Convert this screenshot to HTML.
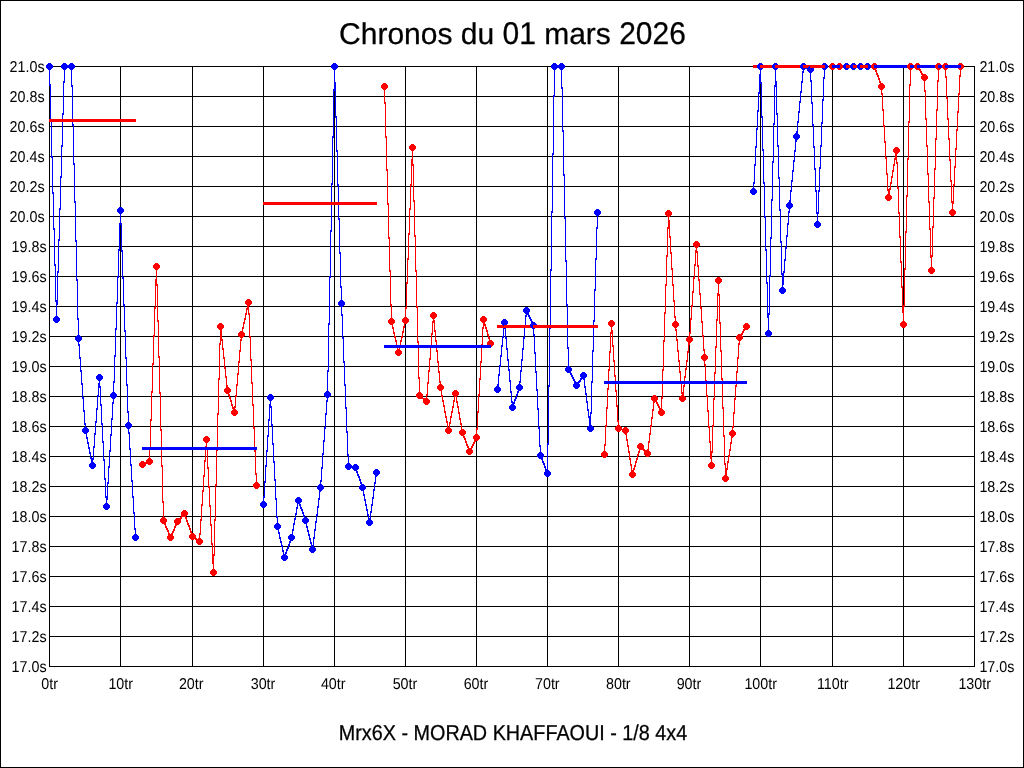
<!DOCTYPE html><html><head><meta charset="utf-8"><title>Chronos du 01 mars 2026</title><style>html,body{margin:0;padding:0;background:#fff;}svg{display:block;}text{font-family:"Liberation Sans",Arial,sans-serif;fill:#000;text-rendering:geometricPrecision;}</style></head><body>
<svg width="1024" height="768" viewBox="0 0 1024 768" shape-rendering="crispEdges">
<rect x="0" y="0" width="1024" height="768" fill="#fff"/>
<rect x="0.5" y="0.5" width="1023" height="767" fill="none" stroke="#000" stroke-width="1"/>
<text transform="translate(339.062 44) scale(1 1.0)" font-size="30" stroke="#000" stroke-width="0.25">Chronos du</text>
<text transform="translate(502.484 44) scale(1 1.045)" font-size="30" stroke="#000" stroke-width="0.25">01</text>
<text transform="translate(544.188 44) scale(1 1.0)" font-size="30" stroke="#000" stroke-width="0.25">mars</text>
<text transform="translate(619.188 44) scale(1 1.045)" font-size="30" stroke="#000" stroke-width="0.25">2026</text>
<text transform="translate(513 740) scale(0.989 1.08)" font-size="20" text-anchor="middle" stroke="#000" stroke-width="0.25">Mrx6X - MORAD KHAFFAOUI - 1/8 4x4</text>
<path d="M49 66.5H975M49 96.5H975M49 126.5H975M49 156.5H975M49 186.5H975M49 216.5H975M49 246.5H975M49 276.5H975M49 306.5H975M49 336.5H975M49 366.5H975M49 396.5H975M49 426.5H975M49 456.5H975M49 486.5H975M49 516.5H975M49 546.5H975M49 576.5H975M49 606.5H975M49 636.5H975M49 666.5H975M49.5 66V667M120.5 66V667M192.5 66V667M263.5 66V667M334.5 66V667M405.5 66V667M476.5 66V667M547.5 66V667M618.5 66V667M689.5 66V667M760.5 66V667M832.5 66V667M903.5 66V667M974.5 66V667" stroke="#000" stroke-width="1" fill="none"/>
<text transform="translate(44.6 72) scale(1.0 1.1)" font-size="14.3" text-anchor="end">21.0s</text>
<text transform="translate(979.4 72) scale(1.0 1.1)" font-size="14.3">21.0s</text>
<text transform="translate(44.6 102) scale(1.0 1.1)" font-size="14.3" text-anchor="end">20.8s</text>
<text transform="translate(979.4 102) scale(1.0 1.1)" font-size="14.3">20.8s</text>
<text transform="translate(44.6 132) scale(1.0 1.1)" font-size="14.3" text-anchor="end">20.6s</text>
<text transform="translate(979.4 132) scale(1.0 1.1)" font-size="14.3">20.6s</text>
<text transform="translate(44.6 162) scale(1.0 1.1)" font-size="14.3" text-anchor="end">20.4s</text>
<text transform="translate(979.4 162) scale(1.0 1.1)" font-size="14.3">20.4s</text>
<text transform="translate(44.6 192) scale(1.0 1.1)" font-size="14.3" text-anchor="end">20.2s</text>
<text transform="translate(979.4 192) scale(1.0 1.1)" font-size="14.3">20.2s</text>
<text transform="translate(44.6 222) scale(1.0 1.1)" font-size="14.3" text-anchor="end">20.0s</text>
<text transform="translate(979.4 222) scale(1.0 1.1)" font-size="14.3">20.0s</text>
<text transform="translate(46.6 252) scale(1.0 1.1)" font-size="14.3" text-anchor="end">19.8s</text>
<text transform="translate(979.4 252) scale(1.0 1.1)" font-size="14.3">19.8s</text>
<text transform="translate(46.6 282) scale(1.0 1.1)" font-size="14.3" text-anchor="end">19.6s</text>
<text transform="translate(979.4 282) scale(1.0 1.1)" font-size="14.3">19.6s</text>
<text transform="translate(46.6 312) scale(1.0 1.1)" font-size="14.3" text-anchor="end">19.4s</text>
<text transform="translate(979.4 312) scale(1.0 1.1)" font-size="14.3">19.4s</text>
<text transform="translate(46.6 342) scale(1.0 1.1)" font-size="14.3" text-anchor="end">19.2s</text>
<text transform="translate(979.4 342) scale(1.0 1.1)" font-size="14.3">19.2s</text>
<text transform="translate(46.6 372) scale(1.0 1.1)" font-size="14.3" text-anchor="end">19.0s</text>
<text transform="translate(979.4 372) scale(1.0 1.1)" font-size="14.3">19.0s</text>
<text transform="translate(46.6 402) scale(1.0 1.1)" font-size="14.3" text-anchor="end">18.8s</text>
<text transform="translate(979.4 402) scale(1.0 1.1)" font-size="14.3">18.8s</text>
<text transform="translate(46.6 432) scale(1.0 1.1)" font-size="14.3" text-anchor="end">18.6s</text>
<text transform="translate(979.4 432) scale(1.0 1.1)" font-size="14.3">18.6s</text>
<text transform="translate(46.6 462) scale(1.0 1.1)" font-size="14.3" text-anchor="end">18.4s</text>
<text transform="translate(979.4 462) scale(1.0 1.1)" font-size="14.3">18.4s</text>
<text transform="translate(46.6 492) scale(1.0 1.1)" font-size="14.3" text-anchor="end">18.2s</text>
<text transform="translate(979.4 492) scale(1.0 1.1)" font-size="14.3">18.2s</text>
<text transform="translate(46.6 522) scale(1.0 1.1)" font-size="14.3" text-anchor="end">18.0s</text>
<text transform="translate(979.4 522) scale(1.0 1.1)" font-size="14.3">18.0s</text>
<text transform="translate(46.6 552) scale(1.0 1.1)" font-size="14.3" text-anchor="end">17.8s</text>
<text transform="translate(979.4 552) scale(1.0 1.1)" font-size="14.3">17.8s</text>
<text transform="translate(46.6 582) scale(1.0 1.1)" font-size="14.3" text-anchor="end">17.6s</text>
<text transform="translate(979.4 582) scale(1.0 1.1)" font-size="14.3">17.6s</text>
<text transform="translate(46.6 612) scale(1.0 1.1)" font-size="14.3" text-anchor="end">17.4s</text>
<text transform="translate(979.4 612) scale(1.0 1.1)" font-size="14.3">17.4s</text>
<text transform="translate(46.6 642) scale(1.0 1.1)" font-size="14.3" text-anchor="end">17.2s</text>
<text transform="translate(979.4 642) scale(1.0 1.1)" font-size="14.3">17.2s</text>
<text transform="translate(46.6 672) scale(1.0 1.1)" font-size="14.3" text-anchor="end">17.0s</text>
<text transform="translate(979.4 672) scale(1.0 1.1)" font-size="14.3">17.0s</text>
<text transform="translate(49.7 689) scale(1.0 1.1)" font-size="14.3" text-anchor="middle">0tr</text>
<text transform="translate(120.7 689) scale(1.0 1.1)" font-size="14.3" text-anchor="middle">10tr</text>
<text transform="translate(191.2 689) scale(1.0 1.1)" font-size="14.3" text-anchor="middle">20tr</text>
<text transform="translate(263.0 689) scale(1.0 1.1)" font-size="14.3" text-anchor="middle">30tr</text>
<text transform="translate(333.2 689) scale(1.0 1.1)" font-size="14.3" text-anchor="middle">40tr</text>
<text transform="translate(404.95 689) scale(1.0 1.1)" font-size="14.3" text-anchor="middle">50tr</text>
<text transform="translate(475.95 689) scale(1.0 1.1)" font-size="14.3" text-anchor="middle">60tr</text>
<text transform="translate(547.3 689) scale(1.0 1.1)" font-size="14.3" text-anchor="middle">70tr</text>
<text transform="translate(618.3 689) scale(1.0 1.1)" font-size="14.3" text-anchor="middle">80tr</text>
<text transform="translate(688.95 689) scale(1.0 1.1)" font-size="14.3" text-anchor="middle">90tr</text>
<text transform="translate(760.7 689) scale(1.0 1.1)" font-size="14.3" text-anchor="middle">100tr</text>
<text transform="translate(832.7 689) scale(1.0 1.1)" font-size="14.3" text-anchor="middle">110tr</text>
<text transform="translate(903.7 689) scale(1.0 1.1)" font-size="14.3" text-anchor="middle">120tr</text>
<text transform="translate(974.7 689) scale(1.0 1.1)" font-size="14.3" text-anchor="middle">130tr</text>
<path d="M49 66h1v20h-1zM50 84h1v38h-1zM51 120h1v38h-1zM52 156h1v38h-1zM53 192h1v38h-1zM54 228h1v38h-1zM55 264h1v38h-1zM56 300h1v20h-1zM57 271h1v34h-1zM58 239h1v34h-1zM59 208h1v33h-1zM60 176h1v34h-1zM61 145h1v33h-1zM62 113h1v34h-1zM63 81h1v34h-1zM64 66h1v17h-1zM65 66h1v1h-1zM66 66h1v1h-1zM67 66h1v1h-1zM68 66h1v1h-1zM69 66h1v1h-1zM70 66h1v1h-1zM71 66h1v21h-1zM72 85h1v41h-1zM73 124h1v41h-1zM74 163h1v40h-1zM75 201h1v41h-1zM76 240h1v41h-1zM77 279h1v41h-1zM78 318h1v28h-1zM79 344h1v15h-1zM80 357h1v15h-1zM81 370h1v15h-1zM82 383h1v16h-1zM83 397h1v15h-1zM84 410h1v15h-1zM85 423h1v11h-1zM86 432h1v7h-1zM87 437h1v7h-1zM88 442h1v7h-1zM89 447h1v7h-1zM90 452h1v7h-1zM91 457h1v7h-1zM92 458h1v8h-1zM93 446h1v14h-1zM94 433h1v15h-1zM95 421h1v14h-1zM96 408h1v15h-1zM97 395h1v15h-1zM98 383h1v14h-1zM99 377h1v11h-1zM100 386h1v20h-1zM101 404h1v21h-1zM102 423h1v20h-1zM103 441h1v20h-1zM104 459h1v21h-1zM105 478h1v20h-1zM106 496h1v11h-1zM107 482h1v18h-1zM108 466h1v18h-1zM109 450h1v18h-1zM110 434h1v18h-1zM111 418h1v18h-1zM112 402h1v18h-1zM113 381h1v23h-1zM114 355h1v28h-1zM115 328h1v29h-1zM116 302h1v28h-1zM117 276h1v28h-1zM118 249h1v29h-1zM119 223h1v28h-1zM120 210h1v15h-1zM121 223h1v29h-1zM122 250h1v29h-1zM123 277h1v29h-1zM124 304h1v28h-1zM125 330h1v29h-1zM126 357h1v29h-1zM127 384h1v29h-1zM128 411h1v23h-1zM129 432h1v18h-1zM130 448h1v18h-1zM131 464h1v18h-1zM132 480h1v18h-1zM133 496h1v18h-1zM134 512h1v18h-1zM135 528h1v10h-1z" fill="#0000ff"/>
<path d="M48 63 51 63 51 64 52 64 52 65 53 65 53 68 52 68 52 69 51 69 51 70 48 70 48 69 47 69 47 68 46 68 46 65 47 65 47 64 48 64Z" fill="#0000ff"/>
<rect x="49" y="119" width="8" height="3" fill="#ff0000"/>
<path d="M55 316 58 316 58 317 59 317 59 318 60 318 60 321 59 321 59 322 58 322 58 323 55 323 55 322 54 322 54 321 53 321 53 318 54 318 54 317 55 317Z" fill="#0000ff"/>
<rect x="56" y="119" width="9" height="3" fill="#ff0000"/>
<path d="M63 63 66 63 66 64 67 64 67 65 68 65 68 68 67 68 67 69 66 69 66 70 63 70 63 69 62 69 62 68 61 68 61 65 62 65 62 64 63 64Z" fill="#0000ff"/>
<rect x="64" y="119" width="8" height="3" fill="#ff0000"/>
<path d="M70 63 73 63 73 64 74 64 74 65 75 65 75 68 74 68 74 69 73 69 73 70 70 70 70 69 69 69 69 68 68 68 68 65 69 65 69 64 70 64Z" fill="#0000ff"/>
<rect x="71" y="119" width="8" height="3" fill="#ff0000"/>
<path d="M77 335 80 335 80 336 81 336 81 337 82 337 82 340 81 340 81 341 80 341 80 342 77 342 77 341 76 341 76 340 75 340 75 337 76 337 76 336 77 336Z" fill="#0000ff"/>
<rect x="78" y="119" width="8" height="3" fill="#ff0000"/>
<path d="M84 427 87 427 87 428 88 428 88 429 89 429 89 432 88 432 88 433 87 433 87 434 84 434 84 433 83 433 83 432 82 432 82 429 83 429 83 428 84 428Z" fill="#0000ff"/>
<rect x="85" y="119" width="8" height="3" fill="#ff0000"/>
<path d="M91 462 94 462 94 463 95 463 95 464 96 464 96 467 95 467 95 468 94 468 94 469 91 469 91 468 90 468 90 467 89 467 89 464 90 464 90 463 91 463Z" fill="#0000ff"/>
<rect x="92" y="119" width="8" height="3" fill="#ff0000"/>
<path d="M98 374 101 374 101 375 102 375 102 376 103 376 103 379 102 379 102 380 101 380 101 381 98 381 98 380 97 380 97 379 96 379 96 376 97 376 97 375 98 375Z" fill="#0000ff"/>
<rect x="99" y="119" width="8" height="3" fill="#ff0000"/>
<path d="M105 503 108 503 108 504 109 504 109 505 110 505 110 508 109 508 109 509 108 509 108 510 105 510 105 509 104 509 104 508 103 508 103 505 104 505 104 504 105 504Z" fill="#0000ff"/>
<rect x="106" y="119" width="8" height="3" fill="#ff0000"/>
<path d="M112 392 115 392 115 393 116 393 116 394 117 394 117 397 116 397 116 398 115 398 115 399 112 399 112 398 111 398 111 397 110 397 110 394 111 394 111 393 112 393Z" fill="#0000ff"/>
<rect x="113" y="119" width="8" height="3" fill="#ff0000"/>
<path d="M119 207 122 207 122 208 123 208 123 209 124 209 124 212 123 212 123 213 122 213 122 214 119 214 119 213 118 213 118 212 117 212 117 209 118 209 118 208 119 208Z" fill="#0000ff"/>
<rect x="120" y="119" width="9" height="3" fill="#ff0000"/>
<path d="M127 422 130 422 130 423 131 423 131 424 132 424 132 427 131 427 131 428 130 428 130 429 127 429 127 428 126 428 126 427 125 427 125 424 126 424 126 423 127 423Z" fill="#0000ff"/>
<path d="M134 534 137 534 137 535 138 535 138 536 139 536 139 539 138 539 138 540 137 540 137 541 134 541 134 540 133 540 133 539 132 539 132 536 133 536 133 535 134 535Z" fill="#0000ff"/>
<rect x="128" y="119" width="8" height="3" fill="#ff0000"/>
<path d="M142 464h1v1h-1zM143 463h1v2h-1zM144 463h1v2h-1zM145 462h1v2h-1zM146 462h1v2h-1zM147 461h1v2h-1zM148 461h1v2h-1zM149 447h1v15h-1zM150 419h1v30h-1zM151 391h1v30h-1zM152 363h1v30h-1zM153 335h1v30h-1zM154 307h1v30h-1zM155 279h1v30h-1zM156 266h1v20h-1zM157 284h1v38h-1zM158 320h1v38h-1zM159 356h1v38h-1zM160 392h1v39h-1zM161 429h1v38h-1zM162 465h1v38h-1zM163 501h1v22h-1zM164 521h1v4h-1zM165 523h1v5h-1zM166 526h1v4h-1zM167 528h1v4h-1zM168 530h1v5h-1zM169 533h1v4h-1zM170 535h1v3h-1zM171 533h1v4h-1zM172 531h1v4h-1zM173 529h1v4h-1zM174 526h1v5h-1zM175 524h1v4h-1zM176 522h1v4h-1zM177 520h1v4h-1zM178 519h1v3h-1zM179 518h1v3h-1zM180 517h1v3h-1zM181 515h1v4h-1zM182 514h1v3h-1zM183 513h1v3h-1zM184 513h1v3h-1zM185 514h1v5h-1zM186 517h1v5h-1zM187 520h1v5h-1zM188 523h1v4h-1zM189 525h1v5h-1zM190 528h1v5h-1zM191 531h1v5h-1zM192 534h1v4h-1zM193 536h1v2h-1zM194 537h1v2h-1zM195 537h1v3h-1zM196 538h1v3h-1zM197 539h1v2h-1zM198 540h1v2h-1zM199 533h1v9h-1zM200 519h1v16h-1zM201 504h1v17h-1zM202 490h1v16h-1zM203 475h1v17h-1zM204 460h1v17h-1zM205 446h1v16h-1zM206 439h1v11h-1zM207 448h1v21h-1zM208 467h1v21h-1zM209 486h1v21h-1zM210 505h1v21h-1zM211 524h1v21h-1zM212 543h1v21h-1zM213 554h1v19h-1zM214 519h1v37h-1zM215 484h1v37h-1zM216 449h1v37h-1zM217 413h1v38h-1zM218 378h1v37h-1zM219 343h1v37h-1zM220 326h1v19h-1zM221 330h1v11h-1zM222 339h1v11h-1zM223 348h1v11h-1zM224 357h1v12h-1zM225 367h1v11h-1zM226 376h1v11h-1zM227 385h1v8h-1zM228 391h1v5h-1zM229 394h1v5h-1zM230 397h1v5h-1zM231 400h1v6h-1zM232 404h1v5h-1zM233 407h1v5h-1zM234 406h1v7h-1zM235 395h1v13h-1zM236 384h1v13h-1zM237 373h1v13h-1zM238 361h1v14h-1zM239 350h1v13h-1zM240 339h1v13h-1zM241 331h1v10h-1zM242 327h1v6h-1zM243 322h1v7h-1zM244 318h1v6h-1zM245 313h1v7h-1zM246 308h1v7h-1zM247 304h1v6h-1zM248 302h1v13h-1zM249 313h1v25h-1zM250 336h1v25h-1zM251 359h1v25h-1zM252 382h1v24h-1zM253 404h1v25h-1zM254 427h1v25h-1zM255 450h1v25h-1zM256 473h1v13h-1z" fill="#ff0000"/>
<path d="M141 461 144 461 144 462 145 462 145 463 146 463 146 466 145 466 145 467 144 467 144 468 141 468 141 467 140 467 140 466 139 466 139 463 140 463 140 462 141 462Z" fill="#ff0000"/>
<rect x="142" y="447" width="8" height="3" fill="#0000ff"/>
<path d="M148 458 151 458 151 459 152 459 152 460 153 460 153 463 152 463 152 464 151 464 151 465 148 465 148 464 147 464 147 463 146 463 146 460 147 460 147 459 148 459Z" fill="#ff0000"/>
<rect x="149" y="447" width="8" height="3" fill="#0000ff"/>
<path d="M155 263 158 263 158 264 159 264 159 265 160 265 160 268 159 268 159 269 158 269 158 270 155 270 155 269 154 269 154 268 153 268 153 265 154 265 154 264 155 264Z" fill="#ff0000"/>
<rect x="156" y="447" width="8" height="3" fill="#0000ff"/>
<path d="M162 517 165 517 165 518 166 518 166 519 167 519 167 522 166 522 166 523 165 523 165 524 162 524 162 523 161 523 161 522 160 522 160 519 161 519 161 518 162 518Z" fill="#ff0000"/>
<rect x="163" y="447" width="8" height="3" fill="#0000ff"/>
<path d="M169 534 172 534 172 535 173 535 173 536 174 536 174 539 173 539 173 540 172 540 172 541 169 541 169 540 168 540 168 539 167 539 167 536 168 536 168 535 169 535Z" fill="#ff0000"/>
<rect x="170" y="447" width="8" height="3" fill="#0000ff"/>
<path d="M176 518 179 518 179 519 180 519 180 520 181 520 181 523 180 523 180 524 179 524 179 525 176 525 176 524 175 524 175 523 174 523 174 520 175 520 175 519 176 519Z" fill="#ff0000"/>
<rect x="177" y="447" width="8" height="3" fill="#0000ff"/>
<path d="M183 510 186 510 186 511 187 511 187 512 188 512 188 515 187 515 187 516 186 516 186 517 183 517 183 516 182 516 182 515 181 515 181 512 182 512 182 511 183 511Z" fill="#ff0000"/>
<rect x="184" y="447" width="9" height="3" fill="#0000ff"/>
<path d="M191 533 194 533 194 534 195 534 195 535 196 535 196 538 195 538 195 539 194 539 194 540 191 540 191 539 190 539 190 538 189 538 189 535 190 535 190 534 191 534Z" fill="#ff0000"/>
<rect x="192" y="447" width="8" height="3" fill="#0000ff"/>
<path d="M198 538 201 538 201 539 202 539 202 540 203 540 203 543 202 543 202 544 201 544 201 545 198 545 198 544 197 544 197 543 196 543 196 540 197 540 197 539 198 539Z" fill="#ff0000"/>
<rect x="199" y="447" width="8" height="3" fill="#0000ff"/>
<path d="M205 436 208 436 208 437 209 437 209 438 210 438 210 441 209 441 209 442 208 442 208 443 205 443 205 442 204 442 204 441 203 441 203 438 204 438 204 437 205 437Z" fill="#ff0000"/>
<rect x="206" y="447" width="8" height="3" fill="#0000ff"/>
<path d="M212 569 215 569 215 570 216 570 216 571 217 571 217 574 216 574 216 575 215 575 215 576 212 576 212 575 211 575 211 574 210 574 210 571 211 571 211 570 212 570Z" fill="#ff0000"/>
<rect x="213" y="447" width="8" height="3" fill="#0000ff"/>
<path d="M219 323 222 323 222 324 223 324 223 325 224 325 224 328 223 328 223 329 222 329 222 330 219 330 219 329 218 329 218 328 217 328 217 325 218 325 218 324 219 324Z" fill="#ff0000"/>
<rect x="220" y="447" width="8" height="3" fill="#0000ff"/>
<path d="M226 387 229 387 229 388 230 388 230 389 231 389 231 392 230 392 230 393 229 393 229 394 226 394 226 393 225 393 225 392 224 392 224 389 225 389 225 388 226 388Z" fill="#ff0000"/>
<rect x="227" y="447" width="8" height="3" fill="#0000ff"/>
<path d="M233 409 236 409 236 410 237 410 237 411 238 411 238 414 237 414 237 415 236 415 236 416 233 416 233 415 232 415 232 414 231 414 231 411 232 411 232 410 233 410Z" fill="#ff0000"/>
<rect x="234" y="447" width="8" height="3" fill="#0000ff"/>
<path d="M240 331 243 331 243 332 244 332 244 333 245 333 245 336 244 336 244 337 243 337 243 338 240 338 240 337 239 337 239 336 238 336 238 333 239 333 239 332 240 332Z" fill="#ff0000"/>
<rect x="241" y="447" width="8" height="3" fill="#0000ff"/>
<path d="M247 299 250 299 250 300 251 300 251 301 252 301 252 304 251 304 251 305 250 305 250 306 247 306 247 305 246 305 246 304 245 304 245 301 246 301 246 300 247 300Z" fill="#ff0000"/>
<path d="M255 482 258 482 258 483 259 483 259 484 260 484 260 487 259 487 259 488 258 488 258 489 255 489 255 488 254 488 254 487 253 487 253 484 254 484 254 483 255 483Z" fill="#ff0000"/>
<rect x="248" y="447" width="9" height="3" fill="#0000ff"/>
<path d="M263 496h1v9h-1zM264 481h1v17h-1zM265 465h1v18h-1zM266 450h1v17h-1zM267 435h1v17h-1zM268 419h1v18h-1zM269 404h1v17h-1zM270 397h1v11h-1zM271 406h1v20h-1zM272 424h1v21h-1zM273 443h1v20h-1zM274 461h1v20h-1zM275 479h1v21h-1zM276 498h1v20h-1zM277 516h1v14h-1zM278 528h1v6h-1zM279 532h1v7h-1zM280 537h1v6h-1zM281 541h1v6h-1zM282 545h1v7h-1zM283 550h1v6h-1zM284 554h1v4h-1zM285 552h1v5h-1zM286 549h1v5h-1zM287 547h1v4h-1zM288 544h1v5h-1zM289 541h1v5h-1zM290 538h1v5h-1zM291 534h1v6h-1zM292 529h1v7h-1zM293 523h1v8h-1zM294 518h1v7h-1zM295 513h1v7h-1zM296 507h1v8h-1zM297 502h1v7h-1zM298 500h1v4h-1zM299 501h1v5h-1zM300 504h1v5h-1zM301 507h1v4h-1zM302 509h1v5h-1zM303 512h1v5h-1zM304 515h1v5h-1zM305 518h1v6h-1zM306 522h1v6h-1zM307 526h1v6h-1zM308 530h1v6h-1zM309 534h1v6h-1zM310 538h1v6h-1zM311 542h1v6h-1zM312 545h1v5h-1zM313 537h1v10h-1zM314 529h1v10h-1zM315 521h1v10h-1zM316 514h1v9h-1zM317 506h1v10h-1zM318 498h1v10h-1zM319 490h1v10h-1zM320 480h1v12h-1zM321 467h1v15h-1zM322 453h1v16h-1zM323 440h1v15h-1zM324 427h1v15h-1zM325 413h1v16h-1zM326 400h1v15h-1zM327 370h1v32h-1zM328 323h1v49h-1zM329 276h1v49h-1zM330 230h1v48h-1zM331 183h1v49h-1zM332 136h1v49h-1zM333 89h1v49h-1zM334 66h1v25h-1zM335 82h1v36h-1zM336 116h1v36h-1zM337 150h1v36h-1zM338 184h1v36h-1zM339 218h1v36h-1zM340 252h1v36h-1zM341 286h1v30h-1zM342 314h1v25h-1zM343 337h1v26h-1zM344 361h1v25h-1zM345 384h1v25h-1zM346 407h1v26h-1zM347 431h1v25h-1zM348 454h1v13h-1zM349 466h1v1h-1zM350 466h1v1h-1zM351 466h1v2h-1zM352 466h1v2h-1zM353 467h1v1h-1zM354 467h1v1h-1zM355 467h1v3h-1zM356 468h1v5h-1zM357 471h1v5h-1zM358 474h1v4h-1zM359 476h1v5h-1zM360 479h1v5h-1zM361 482h1v5h-1zM362 485h1v6h-1zM363 489h1v7h-1zM364 494h1v7h-1zM365 499h1v7h-1zM366 504h1v7h-1zM367 509h1v7h-1zM368 514h1v7h-1zM369 518h1v5h-1zM370 511h1v9h-1zM371 504h1v9h-1zM372 497h1v9h-1zM373 489h1v10h-1zM374 482h1v9h-1zM375 475h1v9h-1zM376 472h1v5h-1z" fill="#0000ff"/>
<path d="M262 501 265 501 265 502 266 502 266 503 267 503 267 506 266 506 266 507 265 507 265 508 262 508 262 507 261 507 261 506 260 506 260 503 261 503 261 502 262 502Z" fill="#0000ff"/>
<rect x="263" y="202" width="8" height="3" fill="#ff0000"/>
<path d="M269 394 272 394 272 395 273 395 273 396 274 396 274 399 273 399 273 400 272 400 272 401 269 401 269 400 268 400 268 399 267 399 267 396 268 396 268 395 269 395Z" fill="#0000ff"/>
<rect x="270" y="202" width="8" height="3" fill="#ff0000"/>
<path d="M276 523 279 523 279 524 280 524 280 525 281 525 281 528 280 528 280 529 279 529 279 530 276 530 276 529 275 529 275 528 274 528 274 525 275 525 275 524 276 524Z" fill="#0000ff"/>
<rect x="277" y="202" width="8" height="3" fill="#ff0000"/>
<path d="M283 554 286 554 286 555 287 555 287 556 288 556 288 559 287 559 287 560 286 560 286 561 283 561 283 560 282 560 282 559 281 559 281 556 282 556 282 555 283 555Z" fill="#0000ff"/>
<rect x="284" y="202" width="8" height="3" fill="#ff0000"/>
<path d="M290 534 293 534 293 535 294 535 294 536 295 536 295 539 294 539 294 540 293 540 293 541 290 541 290 540 289 540 289 539 288 539 288 536 289 536 289 535 290 535Z" fill="#0000ff"/>
<rect x="291" y="202" width="8" height="3" fill="#ff0000"/>
<path d="M297 497 300 497 300 498 301 498 301 499 302 499 302 502 301 502 301 503 300 503 300 504 297 504 297 503 296 503 296 502 295 502 295 499 296 499 296 498 297 498Z" fill="#0000ff"/>
<rect x="298" y="202" width="8" height="3" fill="#ff0000"/>
<path d="M304 517 307 517 307 518 308 518 308 519 309 519 309 522 308 522 308 523 307 523 307 524 304 524 304 523 303 523 303 522 302 522 302 519 303 519 303 518 304 518Z" fill="#0000ff"/>
<rect x="305" y="202" width="8" height="3" fill="#ff0000"/>
<path d="M311 546 314 546 314 547 315 547 315 548 316 548 316 551 315 551 315 552 314 552 314 553 311 553 311 552 310 552 310 551 309 551 309 548 310 548 310 547 311 547Z" fill="#0000ff"/>
<rect x="312" y="202" width="9" height="3" fill="#ff0000"/>
<path d="M319 484 322 484 322 485 323 485 323 486 324 486 324 489 323 489 323 490 322 490 322 491 319 491 319 490 318 490 318 489 317 489 317 486 318 486 318 485 319 485Z" fill="#0000ff"/>
<rect x="320" y="202" width="8" height="3" fill="#ff0000"/>
<path d="M326 391 329 391 329 392 330 392 330 393 331 393 331 396 330 396 330 397 329 397 329 398 326 398 326 397 325 397 325 396 324 396 324 393 325 393 325 392 326 392Z" fill="#0000ff"/>
<rect x="327" y="202" width="8" height="3" fill="#ff0000"/>
<path d="M333 63 336 63 336 64 337 64 337 65 338 65 338 68 337 68 337 69 336 69 336 70 333 70 333 69 332 69 332 68 331 68 331 65 332 65 332 64 333 64Z" fill="#0000ff"/>
<rect x="334" y="202" width="8" height="3" fill="#ff0000"/>
<path d="M340 300 343 300 343 301 344 301 344 302 345 302 345 305 344 305 344 306 343 306 343 307 340 307 340 306 339 306 339 305 338 305 338 302 339 302 339 301 340 301Z" fill="#0000ff"/>
<rect x="341" y="202" width="8" height="3" fill="#ff0000"/>
<path d="M347 463 350 463 350 464 351 464 351 465 352 465 352 468 351 468 351 469 350 469 350 470 347 470 347 469 346 469 346 468 345 468 345 465 346 465 346 464 347 464Z" fill="#0000ff"/>
<rect x="348" y="202" width="8" height="3" fill="#ff0000"/>
<path d="M354 464 357 464 357 465 358 465 358 466 359 466 359 469 358 469 358 470 357 470 357 471 354 471 354 470 353 470 353 469 352 469 352 466 353 466 353 465 354 465Z" fill="#0000ff"/>
<rect x="355" y="202" width="8" height="3" fill="#ff0000"/>
<path d="M361 484 364 484 364 485 365 485 365 486 366 486 366 489 365 489 365 490 364 490 364 491 361 491 361 490 360 490 360 489 359 489 359 486 360 486 360 485 361 485Z" fill="#0000ff"/>
<rect x="362" y="202" width="8" height="3" fill="#ff0000"/>
<path d="M368 519 371 519 371 520 372 520 372 521 373 521 373 524 372 524 372 525 371 525 371 526 368 526 368 525 367 525 367 524 366 524 366 521 367 521 367 520 368 520Z" fill="#0000ff"/>
<path d="M375 469 378 469 378 470 379 470 379 471 380 471 380 474 379 474 379 475 378 475 378 476 375 476 375 475 374 475 374 474 373 474 373 471 374 471 374 470 375 470Z" fill="#0000ff"/>
<rect x="369" y="202" width="8" height="3" fill="#ff0000"/>
<path d="M384 86h1v18h-1zM385 102h1v36h-1zM386 136h1v35h-1zM387 169h1v36h-1zM388 203h1v36h-1zM389 237h1v35h-1zM390 270h1v36h-1zM391 304h1v21h-1zM392 323h1v6h-1zM393 327h1v7h-1zM394 332h1v6h-1zM395 336h1v6h-1zM396 340h1v7h-1zM397 345h1v6h-1zM398 349h1v4h-1zM399 345h1v6h-1zM400 340h1v7h-1zM401 336h1v6h-1zM402 331h1v7h-1zM403 326h1v7h-1zM404 322h1v6h-1zM405 307h1v17h-1zM406 282h1v27h-1zM407 258h1v26h-1zM408 233h1v27h-1zM409 208h1v27h-1zM410 184h1v26h-1zM411 159h1v27h-1zM412 147h1v19h-1zM413 164h1v38h-1zM414 200h1v37h-1zM415 235h1v37h-1zM416 270h1v38h-1zM417 306h1v37h-1zM418 341h1v38h-1zM419 377h1v20h-1zM420 395h1v3h-1zM421 396h1v3h-1zM422 397h1v2h-1zM423 398h1v2h-1zM424 398h1v3h-1zM425 399h1v3h-1zM426 394h1v8h-1zM427 382h1v14h-1zM428 370h1v14h-1zM429 358h1v14h-1zM430 345h1v15h-1zM431 333h1v14h-1zM432 321h1v14h-1zM433 315h1v8h-1zM434 320h1v12h-1zM435 330h1v12h-1zM436 340h1v12h-1zM437 350h1v13h-1zM438 361h1v12h-1zM439 371h1v12h-1zM440 381h1v10h-1zM441 389h1v8h-1zM442 395h1v7h-1zM443 400h1v7h-1zM444 405h1v8h-1zM445 411h1v7h-1zM446 416h1v7h-1zM447 421h1v8h-1zM448 427h1v4h-1zM449 422h1v7h-1zM450 416h1v8h-1zM451 411h1v7h-1zM452 406h1v7h-1zM453 400h1v8h-1zM454 395h1v7h-1zM455 393h1v4h-1zM456 395h1v8h-1zM457 401h1v7h-1zM458 406h1v8h-1zM459 412h1v8h-1zM460 418h1v7h-1zM461 423h1v8h-1zM462 429h1v6h-1zM463 433h1v5h-1zM464 436h1v4h-1zM465 438h1v5h-1zM466 441h1v5h-1zM467 444h1v4h-1zM468 446h1v5h-1zM469 449h1v3h-1zM470 448h1v4h-1zM471 446h1v4h-1zM472 444h1v4h-1zM473 442h1v4h-1zM474 440h1v4h-1zM475 438h1v4h-1zM476 428h1v12h-1zM477 411h1v19h-1zM478 394h1v19h-1zM479 378h1v18h-1zM480 361h1v19h-1zM481 344h1v19h-1zM482 327h1v19h-1zM483 319h1v10h-1zM484 320h1v6h-1zM485 324h1v5h-1zM486 327h1v5h-1zM487 330h1v6h-1zM488 334h1v5h-1zM489 337h1v6h-1zM490 341h1v3h-1z" fill="#ff0000"/>
<path d="M383 83 386 83 386 84 387 84 387 85 388 85 388 88 387 88 387 89 386 89 386 90 383 90 383 89 382 89 382 88 381 88 381 85 382 85 382 84 383 84Z" fill="#ff0000"/>
<rect x="384" y="345" width="8" height="3" fill="#0000ff"/>
<path d="M390 318 393 318 393 319 394 319 394 320 395 320 395 323 394 323 394 324 393 324 393 325 390 325 390 324 389 324 389 323 388 323 388 320 389 320 389 319 390 319Z" fill="#ff0000"/>
<rect x="391" y="345" width="8" height="3" fill="#0000ff"/>
<path d="M397 349 400 349 400 350 401 350 401 351 402 351 402 354 401 354 401 355 400 355 400 356 397 356 397 355 396 355 396 354 395 354 395 351 396 351 396 350 397 350Z" fill="#ff0000"/>
<rect x="398" y="345" width="8" height="3" fill="#0000ff"/>
<path d="M404 317 407 317 407 318 408 318 408 319 409 319 409 322 408 322 408 323 407 323 407 324 404 324 404 323 403 323 403 322 402 322 402 319 403 319 403 318 404 318Z" fill="#ff0000"/>
<rect x="405" y="345" width="8" height="3" fill="#0000ff"/>
<path d="M411 144 414 144 414 145 415 145 415 146 416 146 416 149 415 149 415 150 414 150 414 151 411 151 411 150 410 150 410 149 409 149 409 146 410 146 410 145 411 145Z" fill="#ff0000"/>
<rect x="412" y="345" width="8" height="3" fill="#0000ff"/>
<path d="M418 392 421 392 421 393 422 393 422 394 423 394 423 397 422 397 422 398 421 398 421 399 418 399 418 398 417 398 417 397 416 397 416 394 417 394 417 393 418 393Z" fill="#ff0000"/>
<rect x="419" y="345" width="8" height="3" fill="#0000ff"/>
<path d="M425 398 428 398 428 399 429 399 429 400 430 400 430 403 429 403 429 404 428 404 428 405 425 405 425 404 424 404 424 403 423 403 423 400 424 400 424 399 425 399Z" fill="#ff0000"/>
<rect x="426" y="345" width="8" height="3" fill="#0000ff"/>
<path d="M432 312 435 312 435 313 436 313 436 314 437 314 437 317 436 317 436 318 435 318 435 319 432 319 432 318 431 318 431 317 430 317 430 314 431 314 431 313 432 313Z" fill="#ff0000"/>
<rect x="433" y="345" width="8" height="3" fill="#0000ff"/>
<path d="M439 384 442 384 442 385 443 385 443 386 444 386 444 389 443 389 443 390 442 390 442 391 439 391 439 390 438 390 438 389 437 389 437 386 438 386 438 385 439 385Z" fill="#ff0000"/>
<rect x="440" y="345" width="9" height="3" fill="#0000ff"/>
<path d="M447 427 450 427 450 428 451 428 451 429 452 429 452 432 451 432 451 433 450 433 450 434 447 434 447 433 446 433 446 432 445 432 445 429 446 429 446 428 447 428Z" fill="#ff0000"/>
<rect x="448" y="345" width="8" height="3" fill="#0000ff"/>
<path d="M454 390 457 390 457 391 458 391 458 392 459 392 459 395 458 395 458 396 457 396 457 397 454 397 454 396 453 396 453 395 452 395 452 392 453 392 453 391 454 391Z" fill="#ff0000"/>
<rect x="455" y="345" width="8" height="3" fill="#0000ff"/>
<path d="M461 429 464 429 464 430 465 430 465 431 466 431 466 434 465 434 465 435 464 435 464 436 461 436 461 435 460 435 460 434 459 434 459 431 460 431 460 430 461 430Z" fill="#ff0000"/>
<rect x="462" y="345" width="8" height="3" fill="#0000ff"/>
<path d="M468 448 471 448 471 449 472 449 472 450 473 450 473 453 472 453 472 454 471 454 471 455 468 455 468 454 467 454 467 453 466 453 466 450 467 450 467 449 468 449Z" fill="#ff0000"/>
<rect x="469" y="345" width="8" height="3" fill="#0000ff"/>
<path d="M475 434 478 434 478 435 479 435 479 436 480 436 480 439 479 439 479 440 478 440 478 441 475 441 475 440 474 440 474 439 473 439 473 436 474 436 474 435 475 435Z" fill="#ff0000"/>
<rect x="476" y="345" width="8" height="3" fill="#0000ff"/>
<path d="M482 316 485 316 485 317 486 317 486 318 487 318 487 321 486 321 486 322 485 322 485 323 482 323 482 322 481 322 481 321 480 321 480 318 481 318 481 317 482 317Z" fill="#ff0000"/>
<path d="M489 340 492 340 492 341 493 341 493 342 494 342 494 345 493 345 493 346 492 346 492 347 489 347 489 346 488 346 488 345 487 345 487 342 488 342 488 341 489 341Z" fill="#ff0000"/>
<rect x="483" y="345" width="8" height="3" fill="#0000ff"/>
<path d="M497 384h1v6h-1zM498 374h1v12h-1zM499 365h1v11h-1zM500 355h1v12h-1zM501 345h1v12h-1zM502 336h1v11h-1zM503 326h1v12h-1zM504 322h1v7h-1zM505 327h1v12h-1zM506 337h1v13h-1zM507 348h1v13h-1zM508 359h1v12h-1zM509 369h1v13h-1zM510 380h1v13h-1zM511 391h1v12h-1zM512 401h1v7h-1zM513 402h1v5h-1zM514 399h1v5h-1zM515 397h1v4h-1zM516 394h1v5h-1zM517 391h1v5h-1zM518 388h1v5h-1zM519 381h1v9h-1zM520 370h1v13h-1zM521 359h1v13h-1zM522 348h1v13h-1zM523 337h1v13h-1zM524 326h1v13h-1zM525 315h1v13h-1zM526 310h1v7h-1zM527 311h1v4h-1zM528 313h1v4h-1zM529 315h1v4h-1zM530 317h1v4h-1zM531 319h1v4h-1zM532 321h1v4h-1zM533 323h1v13h-1zM534 334h1v20h-1zM535 352h1v21h-1zM536 371h1v20h-1zM537 389h1v21h-1zM538 408h1v21h-1zM539 427h1v20h-1zM540 445h1v13h-1zM541 456h1v4h-1zM542 458h1v5h-1zM543 461h1v4h-1zM544 463h1v5h-1zM545 466h1v5h-1zM546 469h1v4h-1zM547 443h1v31h-1zM548 385h1v60h-1zM549 327h1v60h-1zM550 269h1v60h-1zM551 211h1v60h-1zM552 153h1v60h-1zM553 95h1v60h-1zM554 66h1v31h-1zM555 66h1v1h-1zM556 66h1v1h-1zM557 66h1v1h-1zM558 66h1v1h-1zM559 66h1v1h-1zM560 66h1v1h-1zM561 66h1v23h-1zM562 87h1v45h-1zM563 130h1v46h-1zM564 174h1v45h-1zM565 217h1v45h-1zM566 260h1v46h-1zM567 304h1v45h-1zM568 347h1v24h-1zM569 369h1v4h-1zM570 371h1v4h-1zM571 373h1v4h-1zM572 375h1v4h-1zM573 377h1v4h-1zM574 379h1v4h-1zM575 381h1v4h-1zM576 383h1v3h-1zM577 382h1v4h-1zM578 381h1v3h-1zM579 380h1v3h-1zM580 378h1v4h-1zM581 377h1v3h-1zM582 375h1v4h-1zM583 375h1v5h-1zM584 378h1v10h-1zM585 386h1v9h-1zM586 393h1v10h-1zM587 401h1v10h-1zM588 409h1v9h-1zM589 416h1v10h-1zM590 412h1v17h-1zM591 381h1v33h-1zM592 350h1v33h-1zM593 320h1v32h-1zM594 289h1v33h-1zM595 258h1v33h-1zM596 227h1v33h-1zM597 212h1v17h-1z" fill="#0000ff"/>
<path d="M496 386 499 386 499 387 500 387 500 388 501 388 501 391 500 391 500 392 499 392 499 393 496 393 496 392 495 392 495 391 494 391 494 388 495 388 495 387 496 387Z" fill="#0000ff"/>
<rect x="497" y="325" width="8" height="3" fill="#ff0000"/>
<path d="M503 319 506 319 506 320 507 320 507 321 508 321 508 324 507 324 507 325 506 325 506 326 503 326 503 325 502 325 502 324 501 324 501 321 502 321 502 320 503 320Z" fill="#0000ff"/>
<rect x="504" y="325" width="9" height="3" fill="#ff0000"/>
<path d="M511 404 514 404 514 405 515 405 515 406 516 406 516 409 515 409 515 410 514 410 514 411 511 411 511 410 510 410 510 409 509 409 509 406 510 406 510 405 511 405Z" fill="#0000ff"/>
<rect x="512" y="325" width="8" height="3" fill="#ff0000"/>
<path d="M518 384 521 384 521 385 522 385 522 386 523 386 523 389 522 389 522 390 521 390 521 391 518 391 518 390 517 390 517 389 516 389 516 386 517 386 517 385 518 385Z" fill="#0000ff"/>
<rect x="519" y="325" width="8" height="3" fill="#ff0000"/>
<path d="M525 307 528 307 528 308 529 308 529 309 530 309 530 312 529 312 529 313 528 313 528 314 525 314 525 313 524 313 524 312 523 312 523 309 524 309 524 308 525 308Z" fill="#0000ff"/>
<rect x="526" y="325" width="8" height="3" fill="#ff0000"/>
<path d="M532 322 535 322 535 323 536 323 536 324 537 324 537 327 536 327 536 328 535 328 535 329 532 329 532 328 531 328 531 327 530 327 530 324 531 324 531 323 532 323Z" fill="#0000ff"/>
<rect x="533" y="325" width="8" height="3" fill="#ff0000"/>
<path d="M539 452 542 452 542 453 543 453 543 454 544 454 544 457 543 457 543 458 542 458 542 459 539 459 539 458 538 458 538 457 537 457 537 454 538 454 538 453 539 453Z" fill="#0000ff"/>
<rect x="540" y="325" width="8" height="3" fill="#ff0000"/>
<path d="M546 470 549 470 549 471 550 471 550 472 551 472 551 475 550 475 550 476 549 476 549 477 546 477 546 476 545 476 545 475 544 475 544 472 545 472 545 471 546 471Z" fill="#0000ff"/>
<rect x="547" y="325" width="8" height="3" fill="#ff0000"/>
<path d="M553 63 556 63 556 64 557 64 557 65 558 65 558 68 557 68 557 69 556 69 556 70 553 70 553 69 552 69 552 68 551 68 551 65 552 65 552 64 553 64Z" fill="#0000ff"/>
<rect x="554" y="325" width="8" height="3" fill="#ff0000"/>
<path d="M560 63 563 63 563 64 564 64 564 65 565 65 565 68 564 68 564 69 563 69 563 70 560 70 560 69 559 69 559 68 558 68 558 65 559 65 559 64 560 64Z" fill="#0000ff"/>
<rect x="561" y="325" width="8" height="3" fill="#ff0000"/>
<path d="M567 366 570 366 570 367 571 367 571 368 572 368 572 371 571 371 571 372 570 372 570 373 567 373 567 372 566 372 566 371 565 371 565 368 566 368 566 367 567 367Z" fill="#0000ff"/>
<rect x="568" y="325" width="9" height="3" fill="#ff0000"/>
<path d="M575 382 578 382 578 383 579 383 579 384 580 384 580 387 579 387 579 388 578 388 578 389 575 389 575 388 574 388 574 387 573 387 573 384 574 384 574 383 575 383Z" fill="#0000ff"/>
<rect x="576" y="325" width="8" height="3" fill="#ff0000"/>
<path d="M582 372 585 372 585 373 586 373 586 374 587 374 587 377 586 377 586 378 585 378 585 379 582 379 582 378 581 378 581 377 580 377 580 374 581 374 581 373 582 373Z" fill="#0000ff"/>
<rect x="583" y="325" width="8" height="3" fill="#ff0000"/>
<path d="M589 425 592 425 592 426 593 426 593 427 594 427 594 430 593 430 593 431 592 431 592 432 589 432 589 431 588 431 588 430 587 430 587 427 588 427 588 426 589 426Z" fill="#0000ff"/>
<path d="M596 209 599 209 599 210 600 210 600 211 601 211 601 214 600 214 600 215 599 215 599 216 596 216 596 215 595 215 595 214 594 214 594 211 595 211 595 210 596 210Z" fill="#0000ff"/>
<rect x="590" y="325" width="8" height="3" fill="#ff0000"/>
<path d="M604 444h1v11h-1zM605 425h1v21h-1zM606 407h1v20h-1zM607 388h1v21h-1zM608 369h1v21h-1zM609 351h1v20h-1zM610 332h1v21h-1zM611 323h1v11h-1zM612 330h1v17h-1zM613 345h1v17h-1zM614 360h1v17h-1zM615 375h1v17h-1zM616 390h1v17h-1zM617 405h1v17h-1zM618 420h1v9h-1zM619 428h1v2h-1zM620 428h1v2h-1zM621 429h1v1h-1zM622 429h1v1h-1zM623 429h1v2h-1zM624 429h1v2h-1zM625 430h1v5h-1zM626 433h1v8h-1zM627 439h1v8h-1zM628 445h1v8h-1zM629 451h1v9h-1zM630 458h1v8h-1zM631 464h1v8h-1zM632 470h1v5h-1zM633 468h1v6h-1zM634 465h1v5h-1zM635 461h1v6h-1zM636 458h1v5h-1zM637 454h1v6h-1zM638 451h1v5h-1zM639 447h1v6h-1zM640 446h1v3h-1zM641 446h1v3h-1zM642 447h1v3h-1zM643 448h1v3h-1zM644 449h1v3h-1zM645 450h1v3h-1zM646 451h1v3h-1zM647 449h1v5h-1zM648 441h1v10h-1zM649 433h1v10h-1zM650 425h1v10h-1zM651 417h1v10h-1zM652 409h1v10h-1zM653 401h1v10h-1zM654 398h1v5h-1zM655 398h1v4h-1zM656 400h1v4h-1zM657 402h1v4h-1zM658 404h1v4h-1zM659 406h1v4h-1zM660 408h1v4h-1zM661 397h1v16h-1zM662 369h1v30h-1zM663 340h1v31h-1zM664 312h1v30h-1zM665 284h1v30h-1zM666 255h1v31h-1zM667 227h1v30h-1zM668 213h1v16h-1zM669 220h1v18h-1zM670 236h1v18h-1zM671 252h1v18h-1zM672 268h1v18h-1zM673 284h1v18h-1zM674 300h1v18h-1zM675 316h1v15h-1zM676 329h1v12h-1zM677 339h1v13h-1zM678 350h1v12h-1zM679 360h1v13h-1zM680 371h1v13h-1zM681 382h1v12h-1zM682 392h1v7h-1zM683 385h1v10h-1zM684 376h1v11h-1zM685 368h1v10h-1zM686 360h1v10h-1zM687 351h1v11h-1zM688 343h1v10h-1zM689 332h1v13h-1zM690 318h1v16h-1zM691 305h1v15h-1zM692 291h1v16h-1zM693 277h1v16h-1zM694 264h1v15h-1zM695 250h1v16h-1zM696 244h1v9h-1zM697 251h1v16h-1zM698 265h1v16h-1zM699 279h1v16h-1zM700 293h1v16h-1zM701 307h1v16h-1zM702 321h1v16h-1zM703 335h1v16h-1zM704 349h1v17h-1zM705 364h1v18h-1zM706 380h1v17h-1zM707 395h1v17h-1zM708 410h1v18h-1zM709 426h1v17h-1zM710 441h1v18h-1zM711 451h1v15h-1zM712 425h1v28h-1zM713 398h1v29h-1zM714 372h1v28h-1zM715 346h1v28h-1zM716 319h1v29h-1zM717 293h1v28h-1zM718 280h1v16h-1zM719 294h1v30h-1zM720 322h1v30h-1zM721 350h1v30h-1zM722 378h1v31h-1zM723 407h1v30h-1zM724 435h1v30h-1zM725 463h1v16h-1zM726 468h1v8h-1zM727 461h1v9h-1zM728 455h1v8h-1zM729 449h1v8h-1zM730 442h1v9h-1zM731 436h1v8h-1zM732 426h1v12h-1zM733 412h1v16h-1zM734 398h1v16h-1zM735 385h1v15h-1zM736 371h1v16h-1zM737 357h1v16h-1zM738 343h1v16h-1zM739 336h1v9h-1zM740 334h1v4h-1zM741 333h1v3h-1zM742 331h1v4h-1zM743 329h1v4h-1zM744 328h1v3h-1zM745 326h1v4h-1zM746 326h1v2h-1z" fill="#ff0000"/>
<path d="M603 451 606 451 606 452 607 452 607 453 608 453 608 456 607 456 607 457 606 457 606 458 603 458 603 457 602 457 602 456 601 456 601 453 602 453 602 452 603 452Z" fill="#ff0000"/>
<rect x="604" y="381" width="8" height="3" fill="#0000ff"/>
<path d="M610 320 613 320 613 321 614 321 614 322 615 322 615 325 614 325 614 326 613 326 613 327 610 327 610 326 609 326 609 325 608 325 608 322 609 322 609 321 610 321Z" fill="#ff0000"/>
<rect x="611" y="381" width="8" height="3" fill="#0000ff"/>
<path d="M617 425 620 425 620 426 621 426 621 427 622 427 622 430 621 430 621 431 620 431 620 432 617 432 617 431 616 431 616 430 615 430 615 427 616 427 616 426 617 426Z" fill="#ff0000"/>
<rect x="618" y="381" width="8" height="3" fill="#0000ff"/>
<path d="M624 427 627 427 627 428 628 428 628 429 629 429 629 432 628 432 628 433 627 433 627 434 624 434 624 433 623 433 623 432 622 432 622 429 623 429 623 428 624 428Z" fill="#ff0000"/>
<rect x="625" y="381" width="8" height="3" fill="#0000ff"/>
<path d="M631 471 634 471 634 472 635 472 635 473 636 473 636 476 635 476 635 477 634 477 634 478 631 478 631 477 630 477 630 476 629 476 629 473 630 473 630 472 631 472Z" fill="#ff0000"/>
<rect x="632" y="381" width="9" height="3" fill="#0000ff"/>
<path d="M639 443 642 443 642 444 643 444 643 445 644 445 644 448 643 448 643 449 642 449 642 450 639 450 639 449 638 449 638 448 637 448 637 445 638 445 638 444 639 444Z" fill="#ff0000"/>
<rect x="640" y="381" width="8" height="3" fill="#0000ff"/>
<path d="M646 450 649 450 649 451 650 451 650 452 651 452 651 455 650 455 650 456 649 456 649 457 646 457 646 456 645 456 645 455 644 455 644 452 645 452 645 451 646 451Z" fill="#ff0000"/>
<rect x="647" y="381" width="8" height="3" fill="#0000ff"/>
<path d="M653 395 656 395 656 396 657 396 657 397 658 397 658 400 657 400 657 401 656 401 656 402 653 402 653 401 652 401 652 400 651 400 651 397 652 397 652 396 653 396Z" fill="#ff0000"/>
<rect x="654" y="381" width="8" height="3" fill="#0000ff"/>
<path d="M660 409 663 409 663 410 664 410 664 411 665 411 665 414 664 414 664 415 663 415 663 416 660 416 660 415 659 415 659 414 658 414 658 411 659 411 659 410 660 410Z" fill="#ff0000"/>
<rect x="661" y="381" width="8" height="3" fill="#0000ff"/>
<path d="M667 210 670 210 670 211 671 211 671 212 672 212 672 215 671 215 671 216 670 216 670 217 667 217 667 216 666 216 666 215 665 215 665 212 666 212 666 211 667 211Z" fill="#ff0000"/>
<rect x="668" y="381" width="8" height="3" fill="#0000ff"/>
<path d="M674 321 677 321 677 322 678 322 678 323 679 323 679 326 678 326 678 327 677 327 677 328 674 328 674 327 673 327 673 326 672 326 672 323 673 323 673 322 674 322Z" fill="#ff0000"/>
<rect x="675" y="381" width="8" height="3" fill="#0000ff"/>
<path d="M681 395 684 395 684 396 685 396 685 397 686 397 686 400 685 400 685 401 684 401 684 402 681 402 681 401 680 401 680 400 679 400 679 397 680 397 680 396 681 396Z" fill="#ff0000"/>
<rect x="682" y="381" width="8" height="3" fill="#0000ff"/>
<path d="M688 336 691 336 691 337 692 337 692 338 693 338 693 341 692 341 692 342 691 342 691 343 688 343 688 342 687 342 687 341 686 341 686 338 687 338 687 337 688 337Z" fill="#ff0000"/>
<rect x="689" y="381" width="8" height="3" fill="#0000ff"/>
<path d="M695 241 698 241 698 242 699 242 699 243 700 243 700 246 699 246 699 247 698 247 698 248 695 248 695 247 694 247 694 246 693 246 693 243 694 243 694 242 695 242Z" fill="#ff0000"/>
<rect x="696" y="381" width="9" height="3" fill="#0000ff"/>
<path d="M703 354 706 354 706 355 707 355 707 356 708 356 708 359 707 359 707 360 706 360 706 361 703 361 703 360 702 360 702 359 701 359 701 356 702 356 702 355 703 355Z" fill="#ff0000"/>
<rect x="704" y="381" width="8" height="3" fill="#0000ff"/>
<path d="M710 462 713 462 713 463 714 463 714 464 715 464 715 467 714 467 714 468 713 468 713 469 710 469 710 468 709 468 709 467 708 467 708 464 709 464 709 463 710 463Z" fill="#ff0000"/>
<rect x="711" y="381" width="8" height="3" fill="#0000ff"/>
<path d="M717 277 720 277 720 278 721 278 721 279 722 279 722 282 721 282 721 283 720 283 720 284 717 284 717 283 716 283 716 282 715 282 715 279 716 279 716 278 717 278Z" fill="#ff0000"/>
<rect x="718" y="381" width="8" height="3" fill="#0000ff"/>
<path d="M724 475 727 475 727 476 728 476 728 477 729 477 729 480 728 480 728 481 727 481 727 482 724 482 724 481 723 481 723 480 722 480 722 477 723 477 723 476 724 476Z" fill="#ff0000"/>
<rect x="725" y="381" width="8" height="3" fill="#0000ff"/>
<path d="M731 430 734 430 734 431 735 431 735 432 736 432 736 435 735 435 735 436 734 436 734 437 731 437 731 436 730 436 730 435 729 435 729 432 730 432 730 431 731 431Z" fill="#ff0000"/>
<rect x="732" y="381" width="8" height="3" fill="#0000ff"/>
<path d="M738 334 741 334 741 335 742 335 742 336 743 336 743 339 742 339 742 340 741 340 741 341 738 341 738 340 737 340 737 339 736 339 736 336 737 336 737 335 738 335Z" fill="#ff0000"/>
<path d="M745 323 748 323 748 324 749 324 749 325 750 325 750 328 749 328 749 329 748 329 748 330 745 330 745 329 744 329 744 328 743 328 743 325 744 325 744 324 745 324Z" fill="#ff0000"/>
<rect x="739" y="381" width="8" height="3" fill="#0000ff"/>
<path d="M753 182h1v10h-1zM754 164h1v20h-1zM755 146h1v20h-1zM756 128h1v20h-1zM757 110h1v20h-1zM758 92h1v20h-1zM759 74h1v20h-1zM760 66h1v18h-1zM761 82h1v36h-1zM762 116h1v35h-1zM763 149h1v35h-1zM764 182h1v36h-1zM765 216h1v35h-1zM766 249h1v35h-1zM767 282h1v36h-1zM768 313h1v21h-1zM769 275h1v40h-1zM770 237h1v40h-1zM771 199h1v40h-1zM772 161h1v40h-1zM773 123h1v40h-1zM774 85h1v40h-1zM775 66h1v21h-1zM776 81h1v34h-1zM777 113h1v34h-1zM778 145h1v34h-1zM779 177h1v34h-1zM780 209h1v34h-1zM781 241h1v34h-1zM782 273h1v18h-1zM783 271h1v14h-1zM784 259h1v14h-1zM785 247h1v14h-1zM786 235h1v14h-1zM787 223h1v14h-1zM788 211h1v14h-1zM789 200h1v13h-1zM790 190h1v12h-1zM791 180h1v12h-1zM792 170h1v12h-1zM793 160h1v12h-1zM794 150h1v12h-1zM795 140h1v12h-1zM796 131h1v11h-1zM797 121h1v12h-1zM798 111h1v12h-1zM799 101h1v12h-1zM800 91h1v12h-1zM801 81h1v12h-1zM802 71h1v12h-1zM803 66h1v7h-1zM804 66h1v2h-1zM805 66h1v2h-1zM806 67h1v2h-1zM807 67h1v2h-1zM808 68h1v2h-1zM809 68h1v2h-1zM810 69h1v13h-1zM811 80h1v24h-1zM812 102h1v24h-1zM813 124h1v24h-1zM814 146h1v24h-1zM815 168h1v24h-1zM816 190h1v24h-1zM817 212h1v13h-1zM818 190h1v24h-1zM819 167h1v25h-1zM820 145h1v24h-1zM821 122h1v25h-1zM822 99h1v25h-1zM823 77h1v24h-1zM824 66h1v13h-1z" fill="#0000ff"/>
<path d="M752 188 755 188 755 189 756 189 756 190 757 190 757 193 756 193 756 194 755 194 755 195 752 195 752 194 751 194 751 193 750 193 750 190 751 190 751 189 752 189Z" fill="#0000ff"/>
<rect x="753" y="65" width="8" height="3" fill="#ff0000"/>
<path d="M759 63 762 63 762 64 763 64 763 65 764 65 764 68 763 68 763 69 762 69 762 70 759 70 759 69 758 69 758 68 757 68 757 65 758 65 758 64 759 64Z" fill="#0000ff"/>
<rect x="760" y="65" width="9" height="3" fill="#ff0000"/>
<path d="M767 330 770 330 770 331 771 331 771 332 772 332 772 335 771 335 771 336 770 336 770 337 767 337 767 336 766 336 766 335 765 335 765 332 766 332 766 331 767 331Z" fill="#0000ff"/>
<rect x="768" y="65" width="8" height="3" fill="#ff0000"/>
<path d="M774 63 777 63 777 64 778 64 778 65 779 65 779 68 778 68 778 69 777 69 777 70 774 70 774 69 773 69 773 68 772 68 772 65 773 65 773 64 774 64Z" fill="#0000ff"/>
<rect x="775" y="65" width="8" height="3" fill="#ff0000"/>
<path d="M781 287 784 287 784 288 785 288 785 289 786 289 786 292 785 292 785 293 784 293 784 294 781 294 781 293 780 293 780 292 779 292 779 289 780 289 780 288 781 288Z" fill="#0000ff"/>
<rect x="782" y="65" width="8" height="3" fill="#ff0000"/>
<path d="M788 202 791 202 791 203 792 203 792 204 793 204 793 207 792 207 792 208 791 208 791 209 788 209 788 208 787 208 787 207 786 207 786 204 787 204 787 203 788 203Z" fill="#0000ff"/>
<rect x="789" y="65" width="8" height="3" fill="#ff0000"/>
<path d="M795 133 798 133 798 134 799 134 799 135 800 135 800 138 799 138 799 139 798 139 798 140 795 140 795 139 794 139 794 138 793 138 793 135 794 135 794 134 795 134Z" fill="#0000ff"/>
<rect x="796" y="65" width="8" height="3" fill="#ff0000"/>
<path d="M802 63 805 63 805 64 806 64 806 65 807 65 807 68 806 68 806 69 805 69 805 70 802 70 802 69 801 69 801 68 800 68 800 65 801 65 801 64 802 64Z" fill="#0000ff"/>
<rect x="803" y="65" width="8" height="3" fill="#ff0000"/>
<path d="M809 66 812 66 812 67 813 67 813 68 814 68 814 71 813 71 813 72 812 72 812 73 809 73 809 72 808 72 808 71 807 71 807 68 808 68 808 67 809 67Z" fill="#0000ff"/>
<rect x="810" y="65" width="8" height="3" fill="#ff0000"/>
<path d="M816 221 819 221 819 222 820 222 820 223 821 223 821 226 820 226 820 227 819 227 819 228 816 228 816 227 815 227 815 226 814 226 814 223 815 223 815 222 816 222Z" fill="#0000ff"/>
<path d="M823 63 826 63 826 64 827 64 827 65 828 65 828 68 827 68 827 69 826 69 826 70 823 70 823 69 822 69 822 68 821 68 821 65 822 65 822 64 823 64Z" fill="#0000ff"/>
<rect x="817" y="65" width="8" height="3" fill="#ff0000"/>
<path d="M832 66h1v1h-1zM833 66h1v1h-1zM834 66h1v1h-1zM835 66h1v1h-1zM836 66h1v1h-1zM837 66h1v1h-1zM838 66h1v1h-1zM839 66h1v1h-1z" fill="#ff0000"/>
<path d="M831 63 834 63 834 64 835 64 835 65 836 65 836 68 835 68 835 69 834 69 834 70 831 70 831 69 830 69 830 68 829 68 829 65 830 65 830 64 831 64Z" fill="#ff0000"/>
<path d="M838 63 841 63 841 64 842 64 842 65 843 65 843 68 842 68 842 69 841 69 841 70 838 70 838 69 837 69 837 68 836 68 836 65 837 65 837 64 838 64Z" fill="#ff0000"/>
<rect x="832" y="65" width="8" height="3" fill="#0000ff"/>
<path d="M846 66h1v1h-1zM847 66h1v1h-1zM848 66h1v1h-1zM849 66h1v1h-1zM850 66h1v1h-1zM851 66h1v1h-1zM852 66h1v1h-1zM853 66h1v1h-1zM854 66h1v1h-1zM855 66h1v1h-1zM856 66h1v1h-1zM857 66h1v1h-1zM858 66h1v1h-1zM859 66h1v1h-1zM860 66h1v1h-1zM861 66h1v1h-1zM862 66h1v1h-1zM863 66h1v1h-1zM864 66h1v1h-1zM865 66h1v1h-1zM866 66h1v1h-1zM867 66h1v1h-1z" fill="#0000ff"/>
<path d="M845 63 848 63 848 64 849 64 849 65 850 65 850 68 849 68 849 69 848 69 848 70 845 70 845 69 844 69 844 68 843 68 843 65 844 65 844 64 845 64Z" fill="#0000ff"/>
<rect x="846" y="65" width="8" height="3" fill="#ff0000"/>
<path d="M852 63 855 63 855 64 856 64 856 65 857 65 857 68 856 68 856 69 855 69 855 70 852 70 852 69 851 69 851 68 850 68 850 65 851 65 851 64 852 64Z" fill="#0000ff"/>
<rect x="853" y="65" width="8" height="3" fill="#ff0000"/>
<path d="M859 63 862 63 862 64 863 64 863 65 864 65 864 68 863 68 863 69 862 69 862 70 859 70 859 69 858 69 858 68 857 68 857 65 858 65 858 64 859 64Z" fill="#0000ff"/>
<path d="M866 63 869 63 869 64 870 64 870 65 871 65 871 68 870 68 870 69 869 69 869 70 866 70 866 69 865 69 865 68 864 68 864 65 865 65 865 64 866 64Z" fill="#0000ff"/>
<rect x="860" y="65" width="8" height="3" fill="#ff0000"/>
<path d="M874 66h1v3h-1zM875 67h1v5h-1zM876 70h1v5h-1zM877 73h1v4h-1zM878 75h1v5h-1zM879 78h1v5h-1zM880 81h1v5h-1zM881 84h1v11h-1zM882 93h1v18h-1zM883 109h1v18h-1zM884 125h1v18h-1zM885 141h1v18h-1zM886 157h1v18h-1zM887 173h1v18h-1zM888 189h1v9h-1zM889 188h1v8h-1zM890 182h1v8h-1zM891 176h1v8h-1zM892 170h1v8h-1zM893 164h1v8h-1zM894 158h1v8h-1zM895 152h1v8h-1zM896 150h1v14h-1zM897 162h1v27h-1zM898 187h1v27h-1zM899 212h1v26h-1zM900 236h1v27h-1zM901 261h1v27h-1zM902 286h1v27h-1zM903 305h1v20h-1zM904 268h1v39h-1zM905 231h1v39h-1zM906 195h1v38h-1zM907 158h1v39h-1zM908 121h1v39h-1zM909 84h1v39h-1zM910 66h1v20h-1zM911 66h1v1h-1zM912 66h1v1h-1zM913 66h1v1h-1zM914 66h1v1h-1zM915 66h1v1h-1zM916 66h1v1h-1zM917 66h1v2h-1zM918 66h1v4h-1zM919 68h1v3h-1zM920 69h1v4h-1zM921 71h1v4h-1zM922 73h1v3h-1zM923 74h1v4h-1zM924 76h1v16h-1zM925 90h1v30h-1zM926 118h1v29h-1zM927 145h1v30h-1zM928 173h1v30h-1zM929 201h1v29h-1zM930 228h1v30h-1zM931 255h1v16h-1zM932 226h1v31h-1zM933 197h1v31h-1zM934 168h1v31h-1zM935 138h1v32h-1zM936 109h1v31h-1zM937 80h1v31h-1zM938 66h1v16h-1zM939 66h1v1h-1zM940 66h1v1h-1zM941 66h1v1h-1zM942 66h1v1h-1zM943 66h1v1h-1zM944 66h1v1h-1zM945 66h1v12h-1zM946 76h1v23h-1zM947 97h1v23h-1zM948 118h1v22h-1zM949 138h1v23h-1zM950 159h1v23h-1zM951 180h1v23h-1zM952 201h1v12h-1zM953 184h1v20h-1zM954 166h1v20h-1zM955 148h1v20h-1zM956 129h1v21h-1zM957 111h1v20h-1zM958 93h1v20h-1zM959 75h1v20h-1zM960 66h1v11h-1z" fill="#ff0000"/>
<path d="M873 63 876 63 876 64 877 64 877 65 878 65 878 68 877 68 877 69 876 69 876 70 873 70 873 69 872 69 872 68 871 68 871 65 872 65 872 64 873 64Z" fill="#ff0000"/>
<rect x="874" y="65" width="8" height="3" fill="#0000ff"/>
<path d="M880 83 883 83 883 84 884 84 884 85 885 85 885 88 884 88 884 89 883 89 883 90 880 90 880 89 879 89 879 88 878 88 878 85 879 85 879 84 880 84Z" fill="#ff0000"/>
<rect x="881" y="65" width="8" height="3" fill="#0000ff"/>
<path d="M887 194 890 194 890 195 891 195 891 196 892 196 892 199 891 199 891 200 890 200 890 201 887 201 887 200 886 200 886 199 885 199 885 196 886 196 886 195 887 195Z" fill="#ff0000"/>
<rect x="888" y="65" width="9" height="3" fill="#0000ff"/>
<path d="M895 147 898 147 898 148 899 148 899 149 900 149 900 152 899 152 899 153 898 153 898 154 895 154 895 153 894 153 894 152 893 152 893 149 894 149 894 148 895 148Z" fill="#ff0000"/>
<rect x="896" y="65" width="8" height="3" fill="#0000ff"/>
<path d="M902 321 905 321 905 322 906 322 906 323 907 323 907 326 906 326 906 327 905 327 905 328 902 328 902 327 901 327 901 326 900 326 900 323 901 323 901 322 902 322Z" fill="#ff0000"/>
<rect x="903" y="65" width="8" height="3" fill="#0000ff"/>
<path d="M909 63 912 63 912 64 913 64 913 65 914 65 914 68 913 68 913 69 912 69 912 70 909 70 909 69 908 69 908 68 907 68 907 65 908 65 908 64 909 64Z" fill="#ff0000"/>
<rect x="910" y="65" width="8" height="3" fill="#0000ff"/>
<path d="M916 63 919 63 919 64 920 64 920 65 921 65 921 68 920 68 920 69 919 69 919 70 916 70 916 69 915 69 915 68 914 68 914 65 915 65 915 64 916 64Z" fill="#ff0000"/>
<rect x="917" y="65" width="8" height="3" fill="#0000ff"/>
<path d="M923 74 926 74 926 75 927 75 927 76 928 76 928 79 927 79 927 80 926 80 926 81 923 81 923 80 922 80 922 79 921 79 921 76 922 76 922 75 923 75Z" fill="#ff0000"/>
<rect x="924" y="65" width="8" height="3" fill="#0000ff"/>
<path d="M930 267 933 267 933 268 934 268 934 269 935 269 935 272 934 272 934 273 933 273 933 274 930 274 930 273 929 273 929 272 928 272 928 269 929 269 929 268 930 268Z" fill="#ff0000"/>
<rect x="931" y="65" width="8" height="3" fill="#0000ff"/>
<path d="M937 63 940 63 940 64 941 64 941 65 942 65 942 68 941 68 941 69 940 69 940 70 937 70 937 69 936 69 936 68 935 68 935 65 936 65 936 64 937 64Z" fill="#ff0000"/>
<rect x="938" y="65" width="8" height="3" fill="#0000ff"/>
<path d="M944 63 947 63 947 64 948 64 948 65 949 65 949 68 948 68 948 69 947 69 947 70 944 70 944 69 943 69 943 68 942 68 942 65 943 65 943 64 944 64Z" fill="#ff0000"/>
<rect x="945" y="65" width="8" height="3" fill="#0000ff"/>
<path d="M951 209 954 209 954 210 955 210 955 211 956 211 956 214 955 214 955 215 954 215 954 216 951 216 951 215 950 215 950 214 949 214 949 211 950 211 950 210 951 210Z" fill="#ff0000"/>
<path d="M959 63 962 63 962 64 963 64 963 65 964 65 964 68 963 68 963 69 962 69 962 70 959 70 959 69 958 69 958 68 957 68 957 65 958 65 958 64 959 64Z" fill="#ff0000"/>
<rect x="952" y="65" width="9" height="3" fill="#0000ff"/>
</svg></body></html>
